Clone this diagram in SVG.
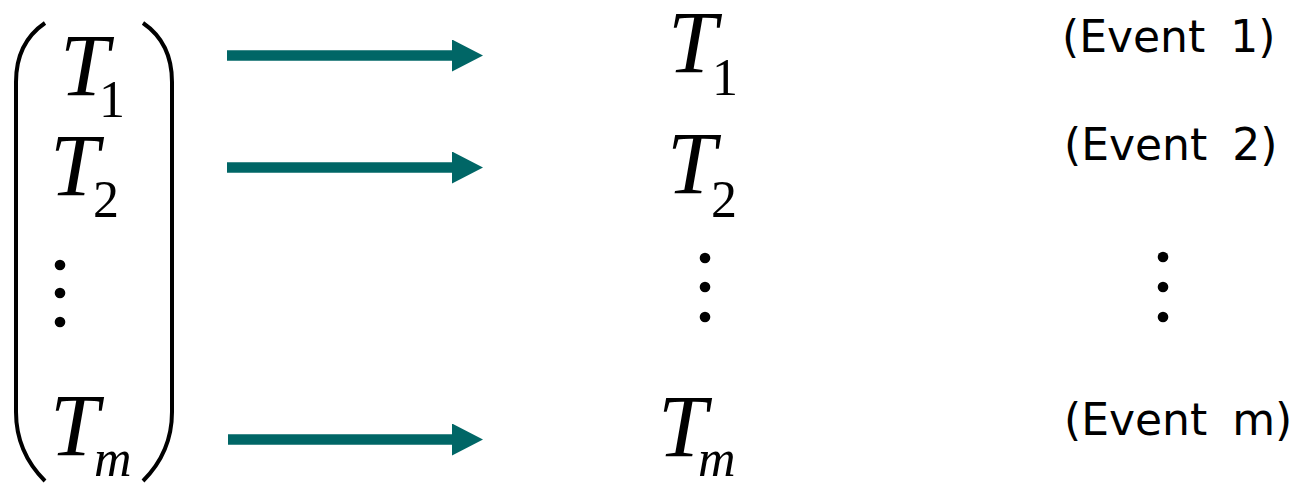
<svg xmlns="http://www.w3.org/2000/svg" width="1307" height="485" viewBox="0 0 1307 485">
<defs>
<style>
.var{font-family:"Liberation Serif","Times New Roman",serif;font-style:italic;font-size:88px;fill:#000}
.sub{font-family:"Liberation Serif","Times New Roman",serif;font-size:52px;fill:#000}
.subi{font-family:"Liberation Serif","Times New Roman",serif;font-style:italic;font-size:52px;fill:#000}
.ev{font-family:"DejaVu Sans","Verdana",sans-serif;font-size:44px;fill:#000;word-spacing:11px}
.br{fill:none;stroke:#000;stroke-width:4}
.dot{fill:#000}
.arr{stroke:#006666;stroke-width:10.5;fill:none;marker-end:url(#ah)}
</style>
<marker id="ah" markerUnits="userSpaceOnUse" markerWidth="32" markerHeight="33" refX="0" refY="16" orient="auto" viewBox="0 0 32 33">
<path d="M0,0 L31,16 L0,32 Z" fill="#006666"/>
</marker>
</defs>
<rect width="1307" height="485" fill="#fff"/>
<g id="vector">
<path class="br" d="M45 23 C26 36 16 56 16 82 L16 412 C16 440 26 462 45 481"/>
<path class="br" d="M143 23 C162 36 172 56 172 82 L172 412 C172 440 162 462 143 481"/>
<text class="var" x="60" y="95">T</text><text class="sub" x="99" y="117">1</text>
<text class="var" x="50" y="195">T</text><text class="sub" x="93" y="217">2</text>
<circle class="dot" cx="60" cy="265" r="5.3"/>
<circle class="dot" cx="60" cy="293" r="5.3"/>
<circle class="dot" cx="60" cy="322" r="5.3"/>
<text class="var" x="50" y="455">T</text><text class="subi" x="94" y="476">m</text>
</g>
<g id="connectors">
<line class="arr" x1="227" y1="55.5" x2="452" y2="55.5"/>
<line class="arr" x1="227" y1="167.5" x2="452" y2="167.5"/>
<line class="arr" x1="228" y1="439.5" x2="452" y2="439.5"/>
</g>
<g id="times">
<text class="var" x="668" y="72">T</text><text class="sub" x="712" y="95">1</text>
<text class="var" x="667" y="193">T</text><text class="sub" x="711" y="217">2</text>
<circle class="dot" cx="705" cy="258" r="5.3"/>
<circle class="dot" cx="705" cy="287" r="5.3"/>
<circle class="dot" cx="705" cy="317" r="5.3"/>
<text class="var" x="658" y="456">T</text><text class="subi" x="698" y="476">m</text>
</g>
<g id="events">
<text class="ev" x="1062" y="52">(Event 1)</text>
<text class="ev" x="1064" y="160">(Event 2)</text>
<circle class="dot" cx="1163" cy="257" r="5.3"/>
<circle class="dot" cx="1163" cy="287" r="5.3"/>
<circle class="dot" cx="1163" cy="317" r="5.3"/>
<text class="ev" x="1064" y="435">(Event m)</text>
</g>
</svg>
